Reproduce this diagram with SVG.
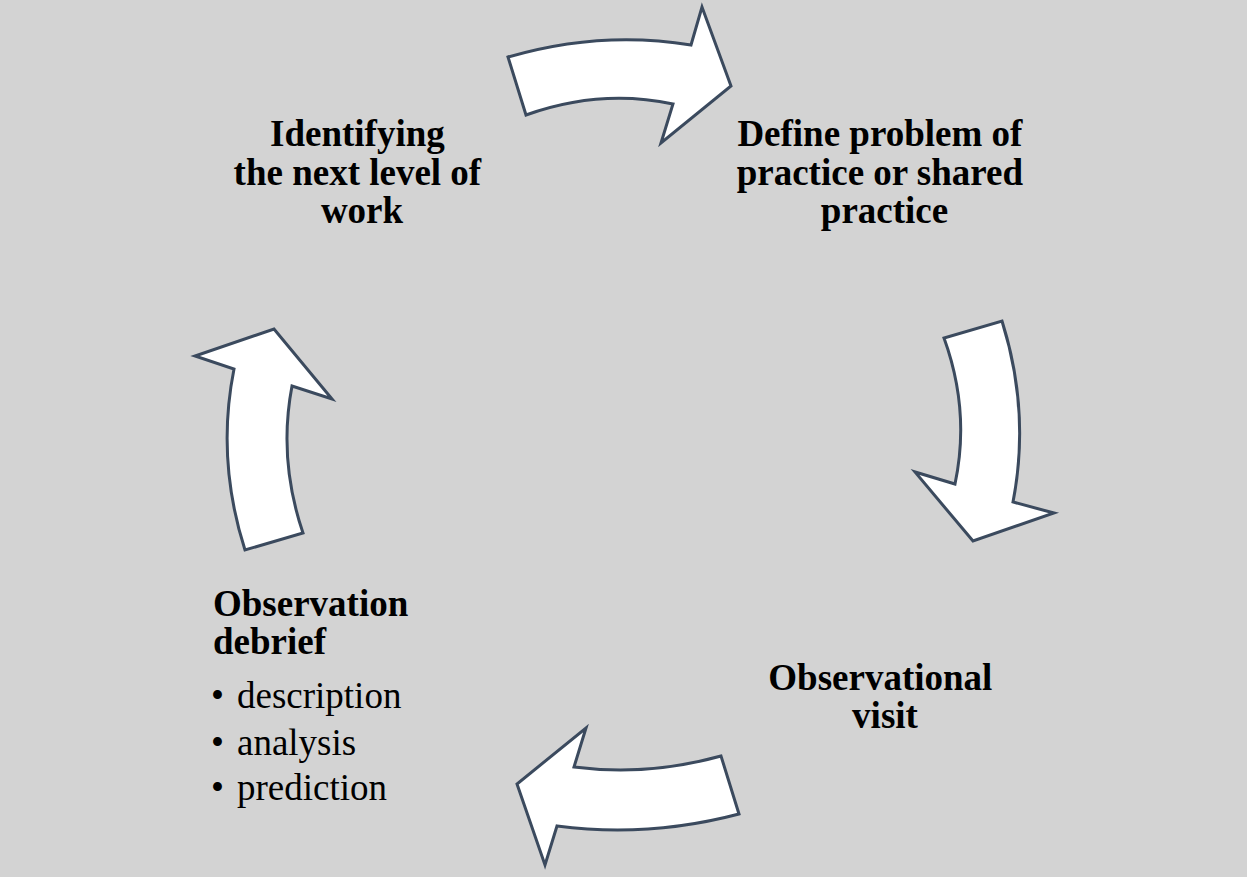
<svg xmlns="http://www.w3.org/2000/svg" width="1247" height="877" viewBox="0 0 1247 877">
  <style>
    .arrow { fill: #ffffff; stroke: #3b4a5e; stroke-width: 3; stroke-linejoin: miter; }
    .title { font-family: "Liberation Serif", "Times New Roman", serif; font-size: 37px; font-weight: bold; fill: #000000; }
    .item { font-family: "Liberation Serif", "Times New Roman", serif; font-size: 37px; fill: #000000; }
  </style>
  <rect x="0" y="0" width="1247" height="877" fill="#d3d3d3"/>

  <!-- curved cycle arrows -->
  <g id="connectors">
    <path id="arrow-top" class="arrow" d="M508,57 Q600.5,30 691,45 L702,7 L731,86 L661,143 L673,104 Q600,88.5 526,115 Z"/>
    <path id="arrow-right" class="arrow" d="M1002,321 Q1030.5,411.5 1013,502 L1054,513 L973,541 L915,472 L955,484 Q970.5,411 944,338 Z"/>
    <path id="arrow-bottom" class="arrow" d="M739,814 Q648,838 557,826 L545,865 L517,784 L586,728 L574,767 Q647.5,776.5 721,756 Z"/>
    <path id="arrow-left" class="arrow" d="M303,533 Q278,459.5 292,386 L332,399 L274,329 L195,356 L234,369 Q216,459.5 245,550 Z"/>
  </g>

  <g id="node-identifying">
    <text class="title" text-anchor="middle">
      <tspan x="362" y="146">Identifying</tspan>
      <tspan x="362" y="184.5">the next level of</tspan>
      <tspan x="362" y="223">work</tspan>
    </text>
  </g>

  <g id="node-define">
    <text class="title" text-anchor="middle">
      <tspan x="884.5" y="146">Define problem of</tspan>
      <tspan x="884.5" y="184.5">practice or shared</tspan>
      <tspan x="884.5" y="223">practice</tspan>
    </text>
  </g>

  <g id="node-visit">
    <text class="title" text-anchor="middle">
      <tspan x="885" y="690">Observational</tspan>
      <tspan x="885" y="727.5">visit</tspan>
    </text>
  </g>

  <g id="node-debrief">
    <text class="title">
      <tspan x="213" y="616">Observation</tspan>
      <tspan x="213" y="654">debrief</tspan>
    </text>
    <text class="item">
      <tspan x="211" y="708">•</tspan>
      <tspan x="237" y="708">description</tspan>
      <tspan x="211" y="755">•</tspan>
      <tspan x="237" y="755">analysis</tspan>
      <tspan x="211" y="800">•</tspan>
      <tspan x="237" y="800">prediction</tspan>
    </text>
  </g>
</svg>
